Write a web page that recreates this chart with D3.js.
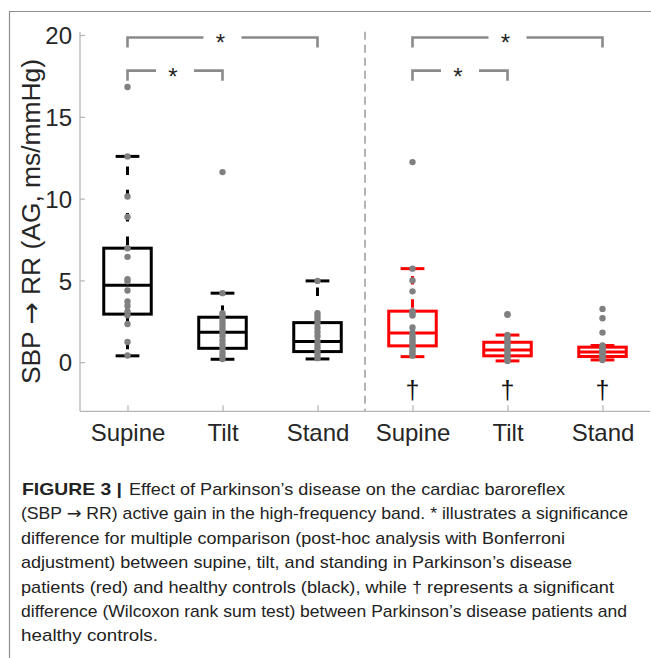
<!DOCTYPE html>
<html>
<head>
<meta charset="utf-8">
<script src="https://cdn.jsdelivr.net/npm/d3@7"></script>
<style>
  body { margin: 0; background: #fff; }
  svg { display: block; }
</style>
</head>
<body>
<svg id="fig" width="651" height="658"></svg>
<script>
// ---- data ---------------------------------------------------------------
const conditions = ["Supine", "Tilt", "Stand", "Supine", "Tilt", "Stand"];
const cohorts = ["control", "control", "control", "pd", "pd", "pd"];
const yTicks = [0, 5, 10, 15, 20];

// box-plot summaries (AG, ms/mmHg)
const whiskerLow  = [0.39, 0.18, 0.20, 0.34, 0.08, 0.14];
const quart1      = [2.94, 0.85, 0.65, 1.00, 0.39, 0.35];
const medians     = [4.71, 1.83, 1.26, 1.79, 0.75, 0.62];
const quart3      = [6.97, 2.75, 2.42, 3.12, 1.22, 0.92];
const whiskerHigh = [12.58, 4.22, 4.97, 5.72, 1.66, 1.02];

// individual subjects
const ctrlSupine = [16.82, 12.58, 10.13, 8.88, 6.97, 6.44, 5.07, 4.95, 4.38, 3.71, 3.44, 3.10, 2.87, 2.34, 1.24, 0.41];
const ctrlTilt   = [11.62, 4.22, 3.00, 2.85, 2.65, 2.45, 2.25, 2.05, 1.85, 1.60, 1.35, 1.10, 0.85, 0.60, 0.40, 0.20];
const ctrlStand  = [4.97, 3.00, 2.80, 2.60, 2.35, 2.10, 1.85, 1.60, 1.30, 1.05, 0.85, 0.65, 0.45, 0.25];
const pdSupine   = [12.23, 5.72, 5.00, 4.33, 3.12, 3.00, 2.85, 2.12, 1.80, 1.60, 1.45, 1.30, 1.15, 1.00, 0.85, 0.70, 0.55, 0.40];
const pdTilt     = [2.93, 2.90, 1.66, 1.50, 1.35, 1.20, 1.05, 0.90, 0.75, 0.60, 0.45, 0.30, 0.15, 0.08];
const pdStand    = [3.26, 2.69, 1.81, 1.02, 0.92, 0.80, 0.70, 0.60, 0.50, 0.40, 0.30, 0.20, 0.14];
const subjects = [ctrlSupine, ctrlTilt, ctrlStand, pdSupine, pdTilt, pdStand];

// post-hoc comparisons (group indices) and rank-sum results
const sigFrom = [0, 0, 3, 3];
const sigTo   = [2, 1, 5, 4];
const sigTier = [0, 1, 0, 1];
const rankSumGroups = [3, 4, 5];

const captionBold = "FIGURE 3 |";
const captionLines = [
  "Effect of Parkinson\u2019s disease on the cardiac baroreflex",
  "(SBP \u2192 RR) active gain in the high-frequency band. * illustrates a significance",
  "difference for multiple comparison (post-hoc analysis with Bonferroni",
  "adjustment) between supine, tilt, and standing in Parkinson\u2019s disease",
  "patients (red) and healthy controls (black), while \u2020 represents a significant",
  "difference (Wilcoxon rank sum test) between Parkinson\u2019s disease patients and",
  "healthy controls."
];

// ---- layout -------------------------------------------------------------
const W = 651, H = 658;
const font = "'Liberation Sans', Arial, Helvetica, sans-serif";
const arrowFont = "'DejaVu Sans', sans-serif";
const cohortColor = { control: "#000000", pd: "#ff0000" };
const tierLevel = [19.85, 17.82];   // bracket heights in data units
const tierDrop = 0.62;

const svg = d3.select("#fig");
svg.append("rect").attr("width", W).attr("height", H).attr("fill", "#fff");

// outer frame
svg.append("path")
  .attr("d", `M9.5,${H} V11.5 H${W}`)
  .attr("fill", "none").attr("stroke", "#8f8f8f").attr("stroke-width", 1.2);

const x = d3.scaleLinear().domain([0.5, 6.5]).range([80, 650]);
const y = d3.scaleLinear().domain([-3, 20]).range([411.3, 35]);
const idx = d3.range(conditions.length);
const bw = 0.5, cw = 0.25;

// axes (light grey lines, inward ticks)
const g = svg.append("g");
g.append("line").attr("x1", 80).attr("x2", 80).attr("y1", y(20.2)).attr("y2", y(-3))
  .attr("stroke", "#b5b5b5").attr("stroke-width", 1.3);
g.append("line").attr("x1", 80).attr("x2", 650).attr("y1", y(-3)).attr("y2", y(-3))
  .attr("stroke", "#b5b5b5").attr("stroke-width", 1.3);

const yAxis = d3.axisLeft(y).tickValues(yTicks).tickSize(-5).tickPadding(8).tickFormat(d3.format("d"));
const ya = g.append("g").attr("transform", "translate(80,0)").call(yAxis);
ya.select(".domain").remove();
ya.selectAll(".tick line").attr("stroke", "#b5b5b5").attr("stroke-width", 1.2);
ya.selectAll(".tick text").attr("font-family", font).attr("font-size", 24).attr("fill", "#262626")
  .attr("dy", "0.36em");

const xAxis = d3.axisBottom(x).tickValues(idx.map(i => i + 1)).tickSize(-6).tickPadding(13)
  .tickFormat((d, i) => conditions[i]);
const xa = g.append("g").attr("transform", `translate(0,${y(-3)})`).call(xAxis);
xa.select(".domain").remove();
xa.selectAll(".tick line").attr("stroke", "#b5b5b5").attr("stroke-width", 1.2);
xa.selectAll(".tick text").attr("font-family", font).attr("font-size", 24).attr("fill", "#262626");

// y-axis title
const yt = svg.append("text")
  .attr("transform", `translate(39.5,${(y(20.2) + y(-3)) / 2}) rotate(-90)`)
  .attr("text-anchor", "middle")
  .attr("font-family", font).attr("font-size", 26.4).attr("fill", "#262626");
yt.append("tspan").text("SBP ");
yt.append("tspan").attr("font-family", arrowFont).text("\u2192");
yt.append("tspan").text(" RR (AG, ms/mmHg)");

// divider between cohorts
svg.append("line").attr("x1", x(3.5)).attr("x2", x(3.5)).attr("y1", y(20.2)).attr("y2", y(-3))
  .attr("stroke", "#b3b3b3").attr("stroke-width", 2).attr("stroke-dasharray", "8,5");

// boxes
const boxes = svg.append("g").attr("fill", "none").attr("stroke-width", 3);
idx.forEach(i => {
  const c = cohortColor[cohorts[i]];
  const cx = x(i + 1);
  const half = (x(1 + bw / 2) - x(1));
  const capHalf = (x(1 + cw / 2) - x(1));
  const bx = boxes.append("g").attr("stroke", c);
  // whiskers
  bx.append("line").attr("x1", cx).attr("x2", cx).attr("y1", y(quart3[i])).attr("y2", y(whiskerHigh[i]))
    .attr("stroke-dasharray", "8.5,14.8").attr("stroke-dashoffset", 20);
  bx.append("line").attr("x1", cx).attr("x2", cx).attr("y1", y(quart1[i])).attr("y2", y(whiskerLow[i]))
    .attr("stroke-dasharray", "8.5,14.8").attr("stroke-dashoffset", 20);
  // caps
  [whiskerHigh[i], whiskerLow[i]].forEach(v => {
    bx.append("line").attr("x1", cx - capHalf).attr("x2", cx + capHalf).attr("y1", y(v)).attr("y2", y(v));
  });
  // box and median
  bx.append("rect").attr("x", cx - half).attr("width", 2 * half)
    .attr("y", y(quart3[i])).attr("height", y(quart1[i]) - y(quart3[i]));
  bx.append("line").attr("x1", cx - half).attr("x2", cx + half)
    .attr("y1", y(medians[i])).attr("y2", y(medians[i]));
});

// subject dots
const dots = svg.append("g").attr("fill", "#808080");
idx.forEach(i => {
  dots.selectAll(null).data(subjects[i]).join("circle")
    .attr("cx", x(i + 1)).attr("cy", d => y(d)).attr("r", 3.2);
});

// significance brackets
const br = svg.append("g");
sigFrom.forEach((a, k) => {
  const b = sigTo[k];
  const lv = tierLevel[sigTier[k]];
  const x0 = x(a + 1), x1 = x(b + 1), xm = (x0 + x1) / 2;
  const yl = y(lv), yd = y(lv - tierDrop);
  const gap = 19;
  br.append("path")
    .attr("d", `M${x0},${yd} V${yl} H${xm - gap} M${xm + gap},${yl} H${x1} V${yd}`)
    .attr("fill", "none").attr("stroke", "#8a8a8a").attr("stroke-width", 2.6);
  br.append("text").attr("x", xm - 2).attr("y", yl + 14)
    .attr("text-anchor", "middle").attr("font-family", font).attr("font-size", 24)
    .attr("fill", "#262626").text("*");
});

// rank-sum markers
svg.append("g").selectAll("text").data(rankSumGroups).join("text")
  .attr("x", d => x(d + 1)).attr("y", 399)
  .attr("text-anchor", "middle").attr("font-family", font).attr("font-size", 25)
  .attr("fill", "#111").text("\u2020");

// caption
const cap = svg.append("g").attr("font-family", "'Liberation Sans Narrow', 'Liberation Sans', Arial, sans-serif")
  .attr("font-size", 17).attr("fill", "#222");
const capBase = 495, capStep = 24.4;
const capEnds = [565, 628, 565, 572, 614, 627, 158];
cap.append("text").attr("x", 22).attr("y", capBase).attr("font-weight", "bold")
  .attr("font-family", "'Liberation Sans', Arial, sans-serif")
  .attr("textLength", 100).attr("lengthAdjust", "spacingAndGlyphs").text(captionBold);
captionLines.forEach((line, i) => {
  const x0 = i === 0 ? 129 : 21;
  const t = cap.append("text").attr("x", x0).attr("y", capBase + i * capStep)
    .attr("textLength", capEnds[i] - x0).attr("lengthAdjust", "spacingAndGlyphs");
  // the arrow glyph is taken from DejaVu, which draws a full-width arrow
  line.split(/(\u2192)/).forEach(part => {
    if (!part) return;
    const sp = t.append("tspan").text(part);
    if (part === "\u2192") sp.attr("font-family", arrowFont);
  });
});
</script>
</body>
</html>
